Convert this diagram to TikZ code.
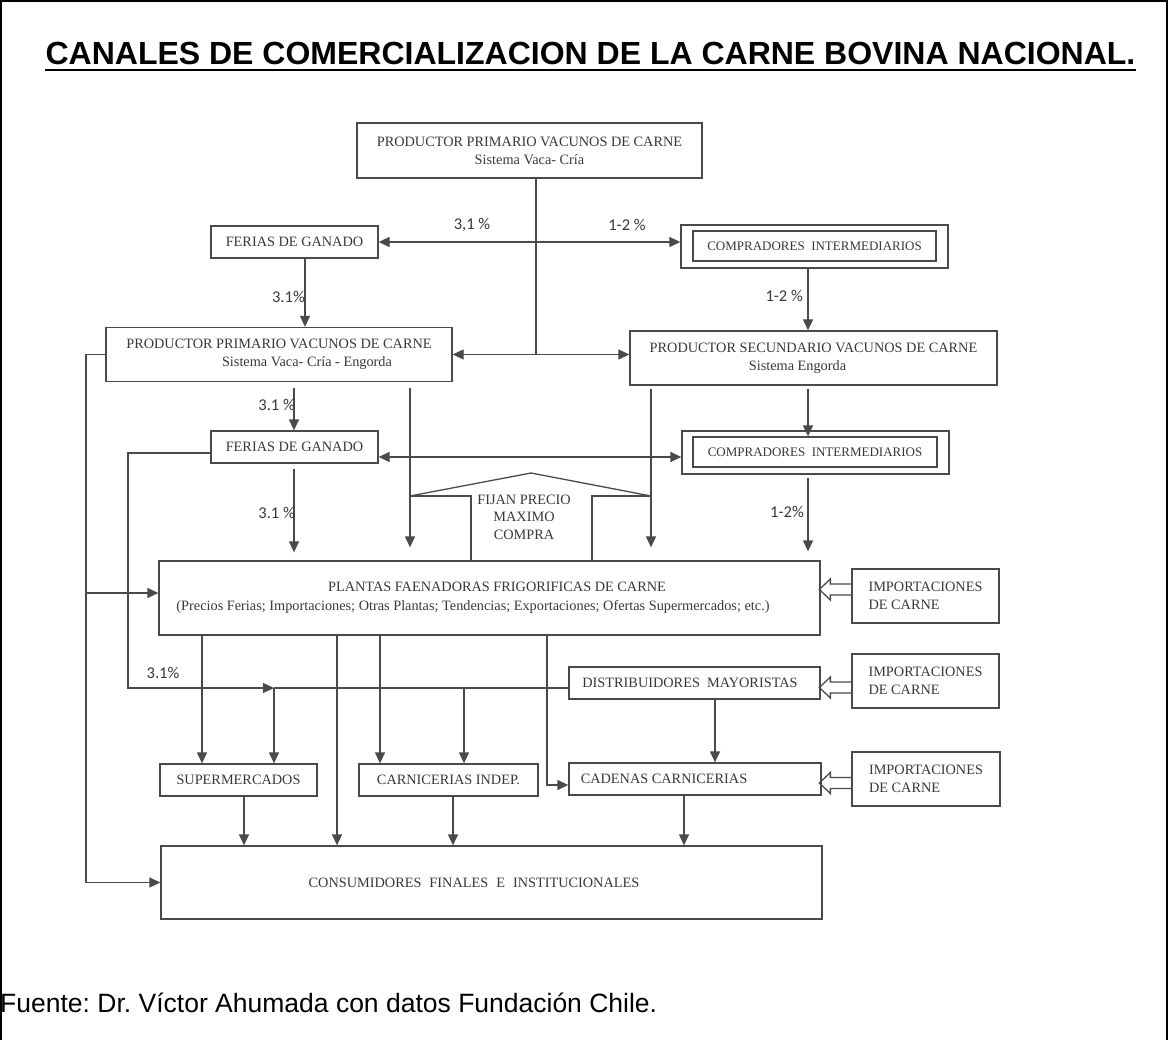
\documentclass[tikz,border=0pt]{standalone}
\usepackage{fontspec}
\setmainfont{Liberation Serif}
\newfontfamily\arialf{Liberation Sans}
\newfontfamily\calf{Carlito}
\usetikzlibrary{arrows.meta}
\definecolor{lc}{HTML}{4A4A4A}
\definecolor{tc}{HTML}{383838}
\frenchspacing
\begin{document}
\begin{tikzpicture}[x=1pt,y=-1pt,
  line/.style={draw=lc, line width=1.3pt},
  arr/.style={line, -{Triangle[length=11pt,width=10pt]}},
  darr/.style={line, {Triangle[length=11pt,width=10pt]}-{Triangle[length=11pt,width=10pt]}},
  box/.style={draw=lc, line width=1.3pt, inner sep=0pt, text=tc, font=\fontsize{14.3}{18}\selectfont, align=center},
  smallbox/.style={box, font=\fontsize{13}{16}\selectfont},
  pct/.style={text=tc, font=\calf\fontsize{16.5}{18}\selectfont, inner sep=0pt},
]
\useasboundingbox (0,0) rectangle (1169,1040);

% title
\node[font=\arialf\bfseries\fontsize{32}{36}\selectfont, anchor=base, inner sep=0pt] (title) at (590.5,65) {CANALES DE COMERCIALIZACION DE LA CARNE BOVINA NACIONAL.};
\draw[line width=2.8pt] ([yshift=-5pt]title.base west) -- ([yshift=-5pt]title.base east);

% boxes
\node[box, minimum width=345pt, minimum height=55pt] (top) at (529.5,150.5) {PRODUCTOR PRIMARIO VACUNOS DE CARNE\\Sistema Vaca- Cría};
\node[box, minimum width=167pt, minimum height=32pt] (fer1) at (294.5,242) {FERIAS DE GANADO};
\node[box, minimum width=267pt, minimum height=43pt] (comp1) at (814.5,246.5) {};
\node[smallbox, minimum width=243pt, minimum height=30pt] (comp1in) at (814.5,246) {COMPRADORES\ \ INTERMEDIARIOS};
\node[box, minimum width=346pt, minimum height=54pt] (prod2) at (279,354.5) {PRODUCTOR PRIMARIO VACUNOS DE CARNE\\\hspace*{56pt}Sistema Vaca- Cría - Engorda};
\node[box, minimum width=367pt, minimum height=54pt] (prodsec) at (813.5,358) {PRODUCTOR SECUNDARIO VACUNOS DE CARNE\\Sistema Engorda\hspace*{32pt}};
\node[box, minimum width=167pt, minimum height=32pt] (fer2) at (294.5,447) {FERIAS DE GANADO};
\node[box, minimum width=267pt, minimum height=43pt] (comp2) at (815.5,452.5) {};
\node[smallbox, minimum width=244pt, minimum height=30pt] (comp2in) at (815,452) {COMPRADORES\ \ INTERMEDIARIOS};
\node[box, minimum width=661pt, minimum height=74pt, font=\fontsize{14.3}{19}\selectfont] (plantas) at (489.5,598) {\hspace*{15pt}PLANTAS FAENADORAS FRIGORIFICAS DE CARNE\\(Precios Ferias; Importaciones; Otras Plantas; Tendencias; Exportaciones; Ofertas Supermercados; etc.)\hspace*{33pt}};
\node[box, minimum width=147pt, minimum height=54pt, align=left] (imp1) at (925.5,596) {IMPORTACIONES\\DE CARNE};
\node[box, minimum width=251pt, minimum height=32pt] (distrib) at (694.5,683) {DISTRIBUIDORES\ \ MAYORISTAS\hspace*{9pt}};
\node[box, minimum width=147pt, minimum height=54pt, align=left] (imp2) at (925.5,681) {IMPORTACIONES\\DE CARNE};
\node[box, minimum width=157pt, minimum height=32pt] (super) at (238.5,780) {SUPERMERCADOS};
\node[box, minimum width=179pt, minimum height=32pt] (carn) at (448.5,780) {CARNICERIAS INDEP.};
\node[box, minimum width=252pt, minimum height=32pt] (cadenas) at (695,779) {CADENAS CARNICERIAS\hspace*{62pt}};
\node[box, minimum width=148pt, minimum height=54pt, align=left] (imp3) at (926,779) {IMPORTACIONES\\DE CARNE};
\node[box, minimum width=661pt, minimum height=73pt] (cons) at (491.5,882.5) {CONSUMIDORES\hspace{8pt}FINALES\hspace{8pt}E\hspace{8pt}INSTITUCIONALES\hspace*{35pt}};

% FIJAN roof
\node[text=tc, font=\fontsize{14.3}{17.5}\selectfont, align=center, inner sep=0pt] (fijan) at (524,517) {FIJAN PRECIO\\MAXIMO\\COMPRA};
\coordinate (rl) at (410,496);
\coordinate (apex) at (531,473);
\coordinate (rr) at (651,496);
\coordinate (wl) at (471,496);
\coordinate (wr) at (592,496);
\draw[line] (rl) -- (apex) -- (rr);
\draw[line] (rl) -- (wl) -- (wl |- plantas.north);
\draw[line] (rr) -- (wr) -- (wr |- plantas.north);

% x positions
\coordinate (vx) at (536,0);
\coordinate (x305) at (305,0);
\coordinate (x808) at (808,0);
\coordinate (x294) at (294,0);
\coordinate (x410) at (410,0);
\coordinate (x651) at (651,0);
\coordinate (lx) at (86,0);
\coordinate (lx2) at (128,0);
\coordinate (x202) at (202,0);
\coordinate (x337) at (337,0);
\coordinate (x380) at (380,0);
\coordinate (x547) at (547,0);
\coordinate (x715) at (715,0);
\coordinate (x244) at (244,0);
\coordinate (x453) at (453,0);
\coordinate (x684) at (684,0);
\coordinate (y457) at (0,457);
\coordinate (jn) at (274,688);
\coordinate (j464) at (464,688);

% top level
\draw[line] (top.south -| vx) -- (prod2.east -| vx);
\draw[darr] (fer1.east) -- (fer1.east -| comp1.west);
\draw[darr] (prod2.east) -- (prod2.east -| prodsec.west);
\node[pct] (p1) at (472,225) {3,1 \%};
\node[pct] (p2) at (627,225) {1-2 \%};

\draw[arr] (fer1.south -| x305) -- (prod2.north -| x305);
\node[pct, anchor=east] (p3) at (305,297) {3.1\%};
\draw[arr] (comp1.south -| x808) -- (prodsec.north -| x808);
\node[pct, anchor=east] (p4) at (803,296) {1-2 \%};

% second level
\draw[arr, shorten <=6pt] (prod2.south -| x294) -- (fer2.north -| x294);
\node[pct, anchor=east] (p5) at (295,405) {3.1 \%};
\draw[arr, shorten <=6pt, shorten >=13pt] (prod2.south -| x410) -- (plantas.north -| x410);
\draw[arr, shorten <=3pt, shorten >=13pt] (prodsec.south -| x651) -- (plantas.north -| x651);
\draw[arr, shorten <=3pt] (prodsec.south -| x808) -- (comp2in.north -| x808);
\draw[darr] (fer2.east |- y457) -- (comp2.west |- y457);
\draw[arr, shorten <=5pt, shorten >=8pt] (fer2.south -| x294) -- (plantas.north -| x294);
\node[pct, anchor=east] (p6) at (295,513) {3.1 \%};
\draw[arr, shorten <=3pt, shorten >=9pt] (comp2.south -| x808) -- (plantas.north -| x808);
\node[pct, anchor=east] (p7) at (804,512) {1-2\%};

% left lines
\draw[arr] (prod2.west) -- (prod2.west -| lx) -- (cons.west -| lx) -- (cons.west);
\draw[arr] ([yshift=5pt]plantas.west -| lx) -- ([yshift=5pt]plantas.west);
\draw[arr] ([yshift=-6pt]fer2.west) -- ([yshift=-6pt]fer2.west -| lx2) |- (jn);
\node[pct] (p8) at (163,673) {3.1\%};
\draw[line] (distrib.west |- jn) -- (jn);
\draw[arr] (jn) -- (jn |- super.north);
\draw[arr] (j464) -- (j464 |- carn.north);

% from plantas
\draw[arr] (plantas.south -| x202) -- (super.north -| x202);
\draw[arr] (plantas.south -| x337) -- (cons.north -| x337);
\draw[arr] (plantas.south -| x380) -- (carn.north -| x380);
\draw[arr] (plantas.south -| x547) |- ([yshift=-6pt]cadenas.west);
\draw[arr] (distrib.south -| x715) -- (cadenas.north -| x715);

% to consumers
\draw[arr] (super.south -| x244) -- (cons.north -| x244);
\draw[arr] (carn.south -| x453) -- (cons.north -| x453);
\draw[arr] (cadenas.south -| x684) -- (cons.north -| x684);

% hollow import arrows
\draw[line] ([yshift=6.5pt]imp1.west) ++(0,-5.5) -- ++(-21,0) -- ++(0,-5) -- ++(-11,10.5) -- ++(11,10.5) -- ++(0,-5) -- ++(21,0);
\draw[line] ([yshift=-6.5pt]imp2.west) ++(0,-5.5) -- ++(-21,0) -- ++(0,-5) -- ++(-11,10.5) -- ++(11,10.5) -- ++(0,-5) -- ++(21,0);
\draw[line] ([yshift=-4pt]imp3.west) ++(0,-5.5) -- ++(-21,0) -- ++(0,-5) -- ++(-11,10.5) -- ++(11,10.5) -- ++(0,-5) -- ++(21,0);

% source
\node[font=\arialf\fontsize{26.5}{30}\selectfont, anchor=base west, inner sep=0pt] (src) at (0,1012) {Fuente: Dr. Víctor Ahumada con datos Fundación Chile.};

% frame
\draw[line width=2pt] (1,1040) -- (1,1) -- (1167,1) -- (1167,1040);
\end{tikzpicture}
\end{document}
